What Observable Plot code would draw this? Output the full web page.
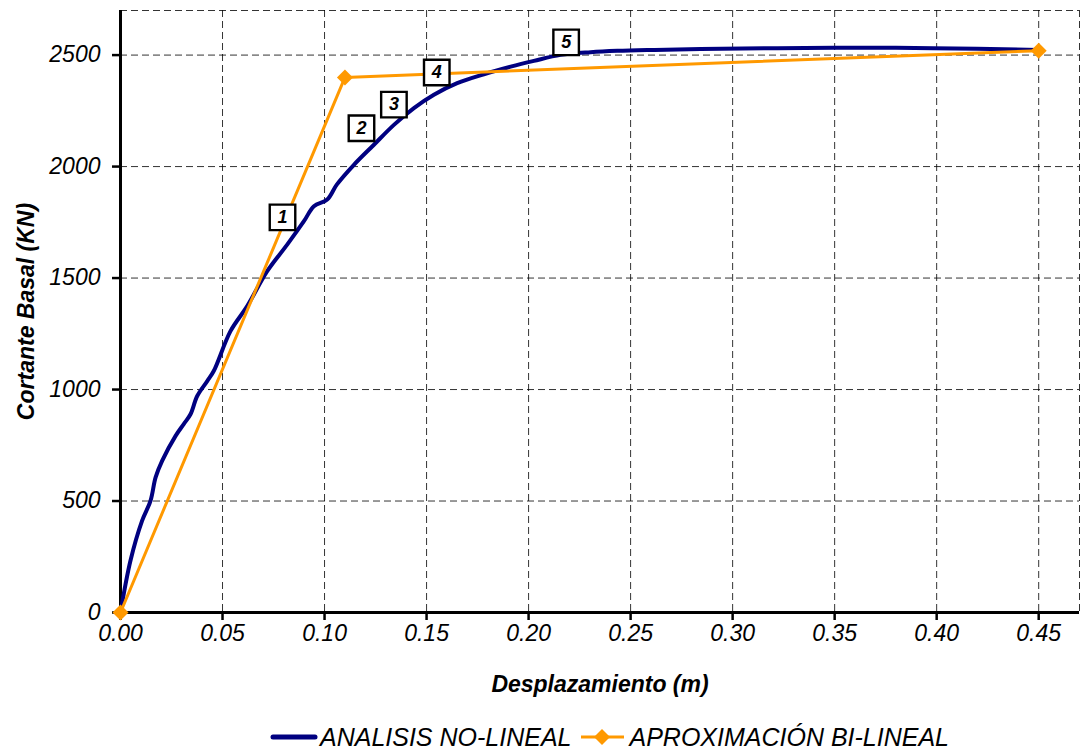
<!DOCTYPE html>
<html>
<head>
<meta charset="utf-8">
<script src="https://cdn.jsdelivr.net/npm/d3@7"></script>
<script src="https://cdn.jsdelivr.net/npm/@observablehq/plot@0.6"></script>
<style>
  html, body { margin: 0; padding: 0; background: #fff; }
  body { width: 1081px; height: 754px; position: relative; overflow: hidden;
         font-family: "Liberation Sans", Arial, sans-serif; }
  #chart { position: absolute; left: 0; top: 0; }
  #legend { position: absolute; left: 0; top: 717px; width: 1081px; height: 40px;
            display: flex; align-items: center; font-style: italic; font-size: 25px; color: #000; }
  .item { display: flex; align-items: center; }
  .item svg { display: block; }
</style>
</head>
<body>
<div id="chart"></div>
<div id="legend"></div>
<script>
// ---- data ----
const seriesNames = ["ANALISIS NO-LINEAL", "APROXIMACIÓN BI-LINEAL"];
const seriesColors = ["#000080", "#FF9900"];

// ANALISIS NO-LINEAL (pushover curve)
const nlX = [0, 0.0049, 0.0106, 0.0147, 0.0172, 0.0204, 0.027, 0.031, 0.0343, 0.0376, 0.0425,
             0.0457, 0.0539, 0.0621, 0.0719, 0.0817, 0.0899, 0.0948, 0.1013, 0.106, 0.1144,
             0.1242, 0.134, 0.1438, 0.1536, 0.165, 0.1781, 0.1912, 0.2026, 0.2157, 0.2304,
             0.2435, 0.2598, 0.2843, 0.3495, 0.3985, 0.45];
const nlY = [0, 233, 412, 501, 606, 680, 792, 845, 889, 971, 1038,
             1083, 1262, 1374, 1531, 1650, 1755, 1822, 1852, 1919, 2008,
             2098, 2187, 2262, 2322, 2374, 2414, 2448, 2474, 2501, 2513,
             2519, 2523, 2527, 2533, 2531, 2523];

// APROXIMACIÓN BI-LINEAL
const blX = [0, 0.11, 0.45];
const blY = [0, 2400, 2520];

// numbered markers
const markLabels = ["1", "2", "3", "4", "5"];
const markX = [0.0794, 0.1181, 0.134, 0.155, 0.2184];
const markY = [1772, 2172, 2278, 2422, 2557];

// axes
const xTicks = [0, 0.05, 0.10, 0.15, 0.20, 0.25, 0.30, 0.35, 0.40, 0.45];
const yTicks = [0, 500, 1000, 1500, 2000, 2500];
const xMax = 0.47, yMax = 2700;
const xTitle = "Desplazamiento (m)";
const yTitle = "Cortante Basal (KN)";

// ---- build tables ----
const nl = nlX.map((x, i) => ({x, y: nlY[i]}));
const bl = blX.map((x, i) => ({x, y: blY[i]}));
const marks = markLabels.map((t, i) => ({t, x: markX[i], y: markY[i]}));

const font = "'Liberation Sans', Arial, sans-serif";
const gridStyle = {stroke: "#000", strokeOpacity: 0.8, strokeWidth: 1, strokeDasharray: "7,4"};

const chart = Plot.plot({
  width: 1081,
  height: 716,
  marginLeft: 120,
  marginRight: 2,
  marginTop: 10,
  marginBottom: 104,
  x: {domain: [0, xMax]},
  y: {domain: [0, yMax]},
  style: {fontFamily: font, color: "#000", background: "#fff", overflow: "visible"},
  marks: [
    Plot.gridX(xTicks.slice(1), gridStyle),
    Plot.gridY(yTicks.slice(1), gridStyle),
    Plot.ruleX([xMax], gridStyle),
    Plot.ruleY([yMax], gridStyle),
    Plot.axisX(xTicks, {tickSize: 8, tickPadding: 4, strokeWidth: 2.5, fontSize: 23,
                        fontStyle: "italic", tickFormat: d3.format(".2f"), label: null}),
    Plot.axisY(yTicks, {tickSize: 8, tickPadding: 12, strokeWidth: 2.5, fontSize: 23,
                        fontStyle: "italic", tickFormat: d => String(d), label: null}),
    Plot.ruleX([0], {stroke: "#000", strokeWidth: 3}),
    Plot.ruleY([0], {stroke: "#000", strokeWidth: 3}),
    Plot.line(nl, {x: "x", y: "y", stroke: seriesColors[0], strokeWidth: 4, curve: "catmull-rom"}),
    Plot.line(bl, {x: "x", y: "y", stroke: seriesColors[1], strokeWidth: 3}),
    Plot.dot(bl, {x: "x", y: "y", symbol: "diamond2", r: 7.2, fill: seriesColors[1], stroke: "none"}),
    Plot.dot(marks, {x: "x", y: "y", symbol: "square", r: 14.4, fill: "#fff", stroke: "#000", strokeWidth: 2.4}),
    Plot.text(marks, {x: "x", y: "y", text: "t", fontSize: 18, fontWeight: "bold", fontStyle: "italic", fill: "#000"}),
    Plot.text([xTitle], {frameAnchor: "bottom", dy: 79, fontSize: 23, fontWeight: "bold", fontStyle: "italic", fill: "#000"}),
    Plot.text([yTitle], {frameAnchor: "left", textAnchor: "middle", dx: -94, rotate: -90, fontSize: 23,
                         fontWeight: "bold", fontStyle: "italic", fill: "#000"})
  ]
});
document.getElementById("chart").appendChild(chart);

// ---- legend ----
const legend = document.getElementById("legend");
legend.style.paddingLeft = "270px";
seriesNames.forEach((name, i) => {
  const item = document.createElement("div");
  item.className = "item";
  item.style.marginRight = i === 0 ? "8px" : "0";
  const sw = i === 0
    ? `<svg width="48" height="20"><line x1="3" y1="10" x2="45" y2="10" stroke="${seriesColors[0]}" stroke-width="5" stroke-linecap="round"/></svg>`
    : `<svg width="48" height="20"><line x1="2" y1="10" x2="45" y2="10" stroke="${seriesColors[1]}" stroke-width="3"/><polygon points="23,2 31,10 23,18 15,10" fill="${seriesColors[1]}"/></svg>`;
  item.innerHTML = sw + `<span style="margin-left:2px">${name}</span>`;
  legend.appendChild(item);
});
</script>
</body>
</html>
